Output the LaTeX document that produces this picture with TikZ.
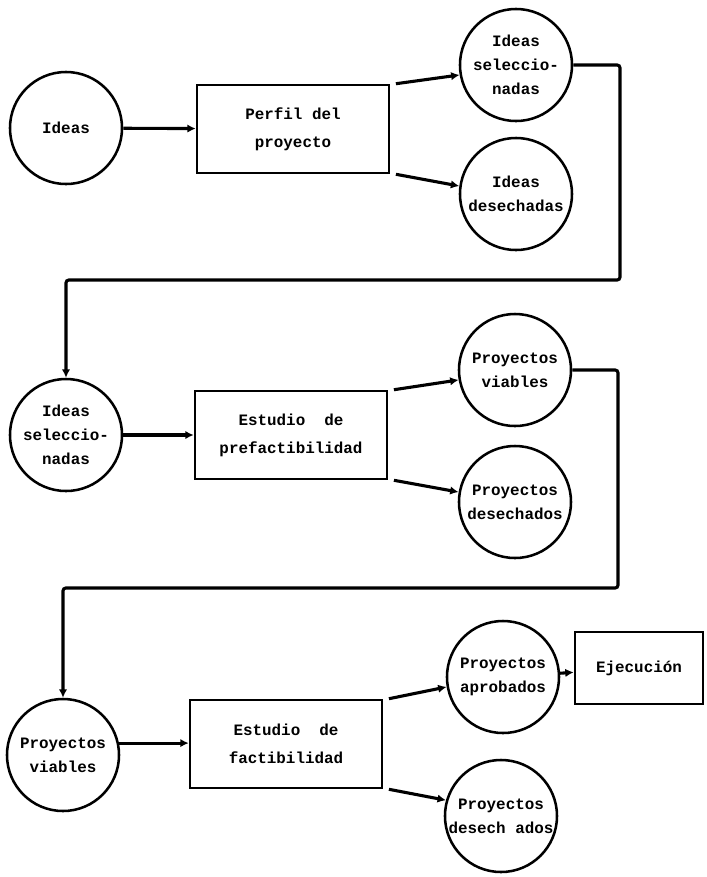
\documentclass[tikz,border=0pt]{standalone}
\usepackage{fontspec}
\setmonofont{Liberation Mono}
\usepackage{tikz}
\usetikzlibrary{arrows.meta}

\tikzset{
  circulo/.style={draw, circle, line width=1.8pt, minimum size=2.8cm, inner sep=0pt, align=center,
    font=\ttfamily\bfseries\fontsize{11.3}{17}\selectfont},
  caja/.style={draw, rectangle, line width=1.8pt, minimum width=4.8cm, minimum height=2.2cm, align=center,
    font=\ttfamily\bfseries\fontsize{11.3}{20}\selectfont},
  flecha/.style={line width=2.2pt, -{Latex[length=6pt,width=6pt]}},
  enlace/.style={line width=2pt, rounded corners=2pt}
}

\begin{document}
\begin{tikzpicture}[x=0.025cm, y=-0.025cm]
        \useasboundingbox (0,0) rectangle (706,877);
        % Primera etapa
        \node[circulo] (ideas) at (66,128) {Ideas};
        \node[caja] (perfil) at (293,129) {Perfil del\\proyecto};
        \node[circulo] (isel) at (516,65) {Ideas\\seleccio-\\nadas};
        \node[circulo] (ides) at (516,194) {Ideas\\desechadas};
        \draw[flecha] (ideas) -- (perfil);
        \draw[flecha] ([xshift=4pt]perfil.north east) -- (isel.190);
        \draw[flecha] ([xshift=4pt]perfil.south east) -- (ides.172);
        % Segunda etapa
        \node[circulo] (isel2) at (66,435) {Ideas\\seleccio-\\nadas};
        \node[caja] (prefact) at (291,435) {Estudio\ \ de\\prefactibilidad};
        \node[circulo] (pvia) at (515,370) {Proyectos\\viables};
        \node[circulo] (pdes) at (515,502) {Proyectos\\desechados};
        \draw[flecha] (isel2) -- (prefact);
        \draw[flecha] ([xshift=4pt]prefact.north east) -- (pvia.190);
        \draw[flecha] ([xshift=4pt]prefact.south east) -- (pdes.170);
        % Tercera etapa
        \node[circulo] (pvia2) at (63,755) {Proyectos\\viables};
        \node[caja] (fact) at (286,744) {Estudio\ \ de\\factibilidad};
        \node[circulo] (papr) at (503,677) {Proyectos\\aprobados};
        \node[circulo] (pdes2) at (501,816) {Proyectos\\desech ados};
        \node[caja, minimum width=3.2cm, minimum height=1.8cm] (ejec) at (639,668) {Ejecución};
        \draw[flecha] (pvia2.12) -- (pvia2.12 -| fact.west);
        \draw[flecha] ([xshift=4pt]fact.north east) -- (papr.190);
        \draw[flecha] ([xshift=4pt]fact.south east) -- (pdes2.164);
        \draw[flecha] (papr) -- (ejec);
        % Enlaces entre etapas
        \coordinate (e1) at (620,280);
        \coordinate (e2) at (618,588);
        \draw[enlace, flecha] (isel.east) -| (e1) -| (isel2.north);
        \draw[enlace, flecha] (pvia.east) -| (e2) -| (pvia2.north);
      \end{tikzpicture}
\end{document}
